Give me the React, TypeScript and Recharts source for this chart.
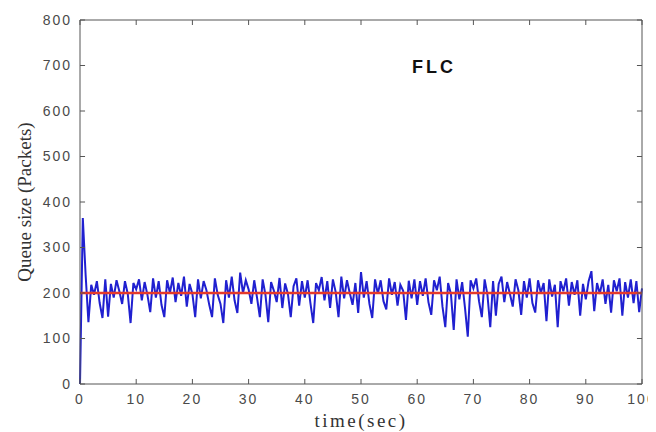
import { LineChart, Line, XAxis, YAxis } from "recharts";

// sample times, 0.5 s apart
const TIME_STEP_LABELS = [
  0, 0.5, 1, 1.5, 2, 2.5, 3, 3.5, 4, 4.5, 5, 5.5, 6, 6.5, 7, 7.5, 8, 8.5, 9, 9.5,
  10, 10.5, 11, 11.5, 12, 12.5, 13, 13.5, 14, 14.5, 15, 15.5, 16, 16.5, 17, 17.5, 18, 18.5, 19, 19.5,
  20, 20.5, 21, 21.5, 22, 22.5, 23, 23.5, 24, 24.5, 25, 25.5, 26, 26.5, 27, 27.5, 28, 28.5, 29, 29.5,
  30, 30.5, 31, 31.5, 32, 32.5, 33, 33.5, 34, 34.5, 35, 35.5, 36, 36.5, 37, 37.5, 38, 38.5, 39, 39.5,
  40, 40.5, 41, 41.5, 42, 42.5, 43, 43.5, 44, 44.5, 45, 45.5, 46, 46.5, 47, 47.5, 48, 48.5, 49, 49.5,
  50, 50.5, 51, 51.5, 52, 52.5, 53, 53.5, 54, 54.5, 55, 55.5, 56, 56.5, 57, 57.5, 58, 58.5, 59, 59.5,
  60, 60.5, 61, 61.5, 62, 62.5, 63, 63.5, 64, 64.5, 65, 65.5, 66, 66.5, 67, 67.5, 68, 68.5, 69, 69.5,
  70, 70.5, 71, 71.5, 72, 72.5, 73, 73.5, 74, 74.5, 75, 75.5, 76, 76.5, 77, 77.5, 78, 78.5, 79, 79.5,
  80, 80.5, 81, 81.5, 82, 82.5, 83, 83.5, 84, 84.5, 85, 85.5, 86, 86.5, 87, 87.5, 88, 88.5, 89, 89.5,
  90, 90.5, 91, 91.5, 92, 92.5, 93, 93.5, 94, 94.5, 95, 95.5, 96, 96.5, 97, 97.5, 98, 98.5, 99, 99.5,
  100,
];

// FLC queue length (packets)
const QUEUE = [
  0, 365, 240, 136, 218, 196, 226, 178, 145, 230, 148, 220, 190, 228, 204, 176, 226, 198, 134, 222,
  208, 230, 184, 224, 196, 158, 232, 190, 226, 174, 147, 228, 200, 234, 180, 222, 194, 236, 170, 220,
  198, 147, 230, 188, 226, 206, 174, 147, 232, 196, 176, 134, 228, 190, 236, 184, 156, 245, 200, 228,
  208, 176, 228, 190, 147, 230, 196, 136, 224, 205, 180, 233, 167, 221, 198, 147, 215, 232, 172, 226,
  190, 228, 178, 134, 222, 206, 235, 184, 226, 167, 230, 202, 147, 236, 188, 228, 200, 174, 222, 156,
  246, 190, 226, 176, 145, 230, 198, 228, 182, 164, 232, 196, 224, 172, 218, 205, 141, 227, 188, 230,
  174, 226, 194, 232, 180, 152, 228, 206, 236, 170, 125, 222, 198, 119, 230, 186, 224, 168, 104, 228,
  210, 232, 182, 147, 230, 196, 125, 226, 150, 220, 236, 180, 224, 198, 170, 230, 206, 152, 226, 190,
  232, 178, 157, 228, 200, 222, 138, 230, 192, 218, 125, 226, 204, 232, 172, 224, 196, 228, 150, 220,
  186, 226, 248, 160, 222, 198, 230, 176, 218, 157, 228, 204, 232, 150, 224, 190, 230, 178, 226, 158,
  210,
];

const TARGET_QUEUE = 200;

const X_TICKS = [0, 10, 20, 30, 40, 50, 60, 70, 80, 90, 100];
const Y_TICKS = [0, 100, 200, 300, 400, 500, 600, 700, 800];
const X_DOMAIN = [0, 100];
const Y_DOMAIN = [0, 800];
const X_TICK_LEN = 11; // y units, ~5px
const Y_TICK_LEN = 0.9; // x units, ~5px

const data = TIME_STEP_LABELS.map((t, i) => ({
  t,
  queue: QUEUE[i],
  ref: TARGET_QUEUE,
}));

// matlab-style box around the plot area
const [x0, x1] = X_DOMAIN;
const [y0, y1] = Y_DOMAIN;
const frame = [
  { t: x0, v: y0 },
  { t: x1, v: y0 },
  { t: x1, v: y1 },
  { t: x0, v: y1 },
  { t: x0, v: y0 },
];

// inward tick marks, segments split by null points
const tickMarks = [
  ...X_TICKS.flatMap((x) => [
    { t: x, v: y0 },
    { t: x, v: y0 + X_TICK_LEN },
    { t: x, v: null },
    { t: x, v: y1 },
    { t: x, v: y1 - X_TICK_LEN },
    { t: x, v: null },
  ]),
  ...Y_TICKS.flatMap((y) => [
    { t: x0, v: y },
    { t: x0 + Y_TICK_LEN, v: y },
    { t: x0 + Y_TICK_LEN, v: null },
    { t: x1, v: y },
    { t: x1 - Y_TICK_LEN, v: y },
    { t: x1 - Y_TICK_LEN, v: null },
  ]),
];

const AXIS_COLOR = "#555";
const tickStyle = {
  fontFamily: "'Liberation Sans', Arial, sans-serif",
  fontSize: 14,
  fill: "#4a4a4a",
  letterSpacing: 2,
};
const titleFont = "'Liberation Serif', 'Times New Roman', serif";

export default function App() {
  return (
    <div
      style={{
        position: "relative",
        margin: "-8px 0 0 -8px",
        width: 656,
        height: 432,
      }}
    >
      <LineChart
        width={656}
        height={432}
        data={data}
        margin={{ top: 20, right: 14, bottom: 18, left: 0 }}
      >
        <XAxis
          dataKey="t"
          type="number"
          domain={X_DOMAIN}
          ticks={X_TICKS}
          interval={0}
          height={30}
          axisLine={false}
          tickLine={false}
          tickSize={0}
          tickMargin={10}
          tick={tickStyle}
          label={{
            value: "time(sec)",
            position: "bottom",
            offset: 0,
            style: {
              fontFamily: titleFont,
              fontSize: 19,
              fill: "#333",
              letterSpacing: 2.5,
            },
          }}
        />
        <YAxis
          type="number"
          domain={Y_DOMAIN}
          ticks={Y_TICKS}
          interval={0}
          width={80}
          axisLine={false}
          tickLine={false}
          tickSize={0}
          tickMargin={8}
          tick={tickStyle}
          label={{
            value: "Queue size (Packets)",
            angle: -90,
            position: "insideLeft",
            offset: 24,
            style: {
              textAnchor: "middle",
              fontFamily: titleFont,
              fontSize: 19,
              fill: "#333",
            },
          }}
        />
        <Line
          dataKey="queue"
          type="linear"
          stroke="#2020d0"
          strokeWidth={2}
          dot={false}
          isAnimationActive={false}
        />
        <Line
          dataKey="ref"
          type="linear"
          stroke="#e5392a"
          strokeWidth={2.5}
          dot={false}
          isAnimationActive={false}
        />
        <Line
          data={frame}
          dataKey="v"
          type="linear"
          stroke={AXIS_COLOR}
          strokeWidth={1}
          dot={false}
          isAnimationActive={false}
        />
        <Line
          data={tickMarks}
          dataKey="v"
          type="linear"
          stroke={AXIS_COLOR}
          strokeWidth={1}
          dot={false}
          connectNulls={false}
          isAnimationActive={false}
        />
      </LineChart>
      <div
        style={{
          position: "absolute",
          left: 434,
          top: 58,
          transform: "translateX(-50%)",
          fontFamily: "'Liberation Sans', Arial, sans-serif",
          fontWeight: 700,
          fontSize: 18,
          letterSpacing: 3,
          color: "#111",
          lineHeight: "18px",
        }}
      >
        FLC
      </div>
    </div>
  );
}
